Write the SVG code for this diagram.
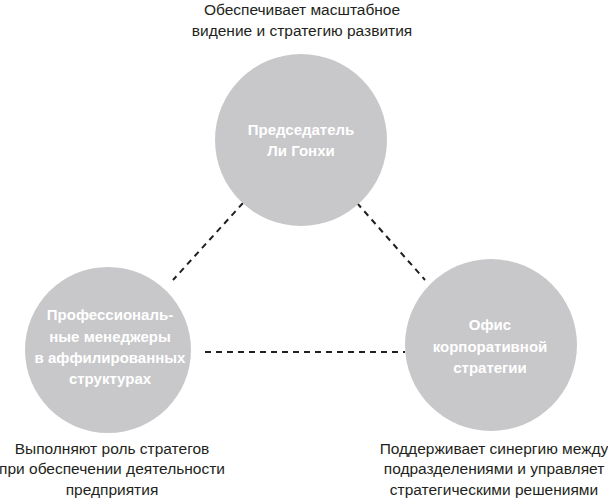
<svg xmlns="http://www.w3.org/2000/svg" width="608" height="499" viewBox="0 0 608 499">
<style>
.node{fill:#c8c8ca}
.nt{font-family:"Liberation Sans",Arial,sans-serif;font-weight:bold;font-size:15px;fill:#ffffff;text-anchor:middle}
.lab{font-family:"Liberation Sans",Arial,sans-serif;font-size:15.5px;fill:#231f20;text-anchor:middle}
.con{stroke:#231f20;stroke-width:2;stroke-dasharray:6 5;fill:none}
</style>
<rect width="608" height="499" fill="#ffffff"/>
<g id="connectors">
<line class="con" x1="243" y1="203" x2="173" y2="280"/>
<line class="con" x1="357" y1="203" x2="425" y2="280"/>
<line class="con" x1="205" y1="352" x2="405" y2="352"/>
</g>
<g id="chairman">
<circle class="node" cx="301" cy="140" r="86"/>
<text class="nt" x="301" y="135">Председатель</text>
<text class="nt" x="301" y="156">Ли Гонхи</text>
<text class="lab" x="302" y="15">Обеспечивает масштабное</text>
<text class="lab" x="302" y="36">видение и стратегию развития</text>
</g>
<g id="managers">
<circle class="node" cx="108" cy="350" r="83"/>
<text class="nt" x="110" y="320">Профессиональ-</text>
<text class="nt" x="110" y="342">ные менеджеры</text>
<text class="nt" x="110" y="363">в аффилированных</text>
<text class="nt" x="110" y="384">структурах</text>
<text class="lab" x="112" y="454">Выполняют роль стратегов</text>
<text class="lab" x="112" y="474">при обеспечении деятельности</text>
<text class="lab" x="112" y="495">предприятия</text>
</g>
<g id="office">
<circle class="node" cx="491" cy="345" r="86"/>
<text class="nt" x="490" y="330">Офис</text>
<text class="nt" x="490" y="352">корпоративной</text>
<text class="nt" x="490" y="373">стратегии</text>
<text class="lab" x="494" y="454">Поддерживает синергию между</text>
<text class="lab" x="494" y="474">подразделениями и управляет</text>
<text class="lab" x="494" y="495">стратегическими решениями</text>
</g>
</svg>
